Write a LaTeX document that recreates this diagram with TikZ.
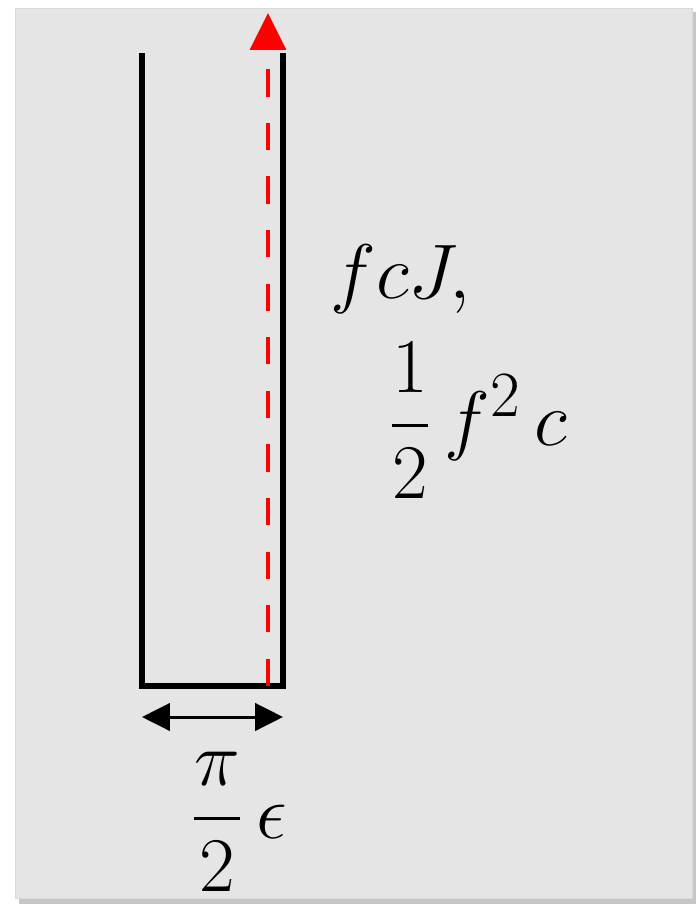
\documentclass[tikz,border=0pt]{standalone}
\usepackage{amsmath}
\usetikzlibrary{arrows.meta, positioning}

\begin{document}
\begin{tikzpicture}[
    x=0.02cm, y=-0.02cm,
    wall/.style={line width=3.4pt, line cap=butt},
    flow/.style={red, line width=2pt, dash pattern=on 15.5pt off 15pt,
                 -{Triangle[length=0.74cm, width=0.72cm]}},
    gap/.style={line width=1.7pt,
                {Triangle[length=0.56cm, width=0.55cm]}-{Triangle[length=0.56cm, width=0.55cm]}},
    lbl/.style={font=\Huge, scale=1.77, transform shape, inner sep=0pt, anchor=base west}
  ]
  \useasboundingbox (0,0) rectangle (699,910);
  % panel with shadow
  \fill[gray!45] (19,12) rectangle (696,904);
  \filldraw[fill=gray!20, draw=gray!30] (15,8) rectangle (692,898);

  % the channel
  \coordinate (tl) at (142,53);
  \coordinate (bl) at (142,686);
  \coordinate (br) at (283,686);
  \coordinate (tr) at (283,53);
  \draw[wall] (tl) -- (bl) -- (br) -- (tr);

  % flow along the wall
  \coordinate (fs) at (268,686);
  \coordinate (fe) at (268,13);
  \draw[flow] (fs) -- (fe);

  % width
  \coordinate (wl) at (142,717);
  \coordinate (wr) at (283,717);
  \draw[gap] (wl) -- (wr);

  \node[lbl] (flux) at (330,298) {$fcJ,$};
  \node[lbl] (energy) at (388,445) {$\dfrac{1}{2}\,f^2\,c$};
  \node[lbl] (width) at (190,838) {$\dfrac{\pi}{2}\,\epsilon$};
\end{tikzpicture}
\end{document}
